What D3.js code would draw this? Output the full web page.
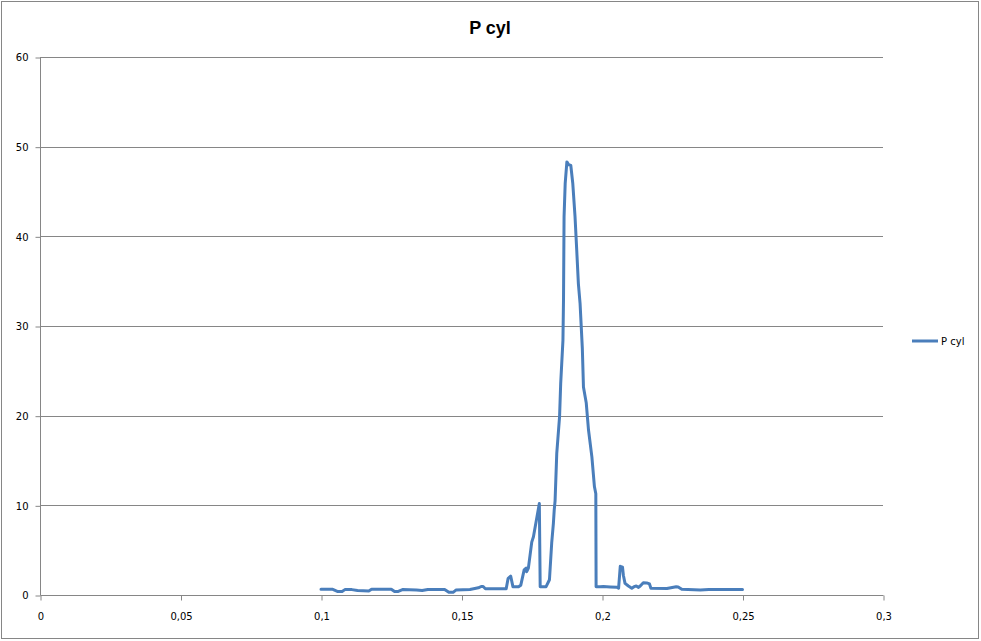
<!DOCTYPE html>
<html><head><meta charset="utf-8">
<script src="https://cdn.jsdelivr.net/npm/d3@7"></script>
<style>html,body{margin:0;padding:0;background:#fff;}svg{display:block;}</style>
</head><body>
<svg id="c" width="981" height="641"></svg>
<script>
const title = "P cyl";
const seriesName = "P cyl";
const xTicks = [0, 0.05, 0.1, 0.15, 0.2, 0.25, 0.3];
const yTicks = [0, 10, 20, 30, 40, 50, 60];
const xs = [0.1000,0.1040,0.1060,0.1075,0.1085,0.1110,0.1130,0.1170,0.1180,0.1250,0.1262,0.1275,0.1290,0.1340,0.1360,0.1380,0.1440,0.1455,0.1470,0.1480,0.1530,0.1560,0.1570,0.1577,0.1585,0.1630,0.1648,0.1659,0.1666,0.1675,0.1683,0.1703,0.1711,0.1723,0.1730,0.1732,0.1738,0.1750,0.1756,0.1777,0.1780,0.1801,0.1813,0.1821,0.1824,0.1827,0.1830,0.1833,0.1839,0.1849,0.1853,0.1861,0.1863,0.1865,0.1869,0.1875,0.1881,0.1889,0.1896,0.1904,0.1910,0.1916,0.1922,0.1930,0.1934,0.1944,0.1952,0.1964,0.1973,0.1978,0.1979,0.1993,0.2005,0.2029,0.2053,0.2059,0.2065,0.2073,0.2076,0.2082,0.2094,0.2106,0.2114,0.2122,0.2130,0.2136,0.2147,0.2159,0.2169,0.2174,0.2231,0.2264,0.2271,0.2284,0.2350,0.2380,0.2420,0.2500];
const ys = [0.65,0.65,0.38,0.38,0.6,0.6,0.5,0.45,0.65,0.65,0.38,0.4,0.6,0.55,0.5,0.62,0.62,0.3,0.3,0.55,0.62,0.8,0.95,0.95,0.7,0.7,0.7,0.7,1.86,2.1,0.93,0.93,1.1,2.8,3.0,2.6,3.0,5.9,6.5,10.2,0.93,0.93,1.7,5.8,6.9,8.0,9.5,10.5,15.8,19.9,23.6,28.4,32.9,42.2,45.9,48.3,48.0,47.9,45.9,42.2,38.5,34.7,32.5,27.5,23.2,21.4,18.4,15.4,12.1,11.3,0.93,0.93,0.95,0.9,0.86,0.75,3.2,3.1,2.2,1.3,1.0,0.75,0.93,1.0,0.85,1.0,1.37,1.35,1.23,0.75,0.72,0.93,0.9,0.64,0.55,0.6,0.62,0.62];

const data = xs.map((x,i)=>({x:x, y:ys[i]}));
const svg = d3.select("#c");
const L = 40, R = 883, T = 57, B = 595;
const x = d3.scaleLinear().domain([0,0.3]).range([L,R]);
const y = d3.scaleLinear().domain([0,60]).range([B,T]);
const fmt = d => String(d).replace(".", ",");
const grid = "#868686";

// outer border
svg.append("rect").attr("x",1.5).attr("y",1.5).attr("width",977).attr("height",637)
  .attr("fill","#fff").attr("stroke",grid).attr("stroke-width",1);

// gridlines
svg.append("g").selectAll("line").data(yTicks.filter(d=>d>0)).join("line")
  .attr("x1",L).attr("x2",R).attr("y1",d=>Math.round(y(d))+0.5).attr("y2",d=>Math.round(y(d))+0.5)
  .attr("stroke",grid).attr("stroke-width",1);

// y axis
const ya = svg.append("g").attr("transform",`translate(${L+0.5},0.5)`)
  .call(d3.axisLeft(y).tickValues(yTicks).tickFormat(d=>d).tickSize(5).tickPadding(7));
ya.select(".domain").attr("stroke",grid).attr("d",`M0,${T}V${B}`);
ya.selectAll(".tick line").attr("stroke",grid);
ya.selectAll("text").attr("font-family","DejaVu Sans").attr("font-size","10px").attr("fill","#000");

// x axis
const xa = svg.append("g").attr("transform",`translate(0.5,${B+0.5})`)
  .call(d3.axisBottom(x).tickValues(xTicks).tickFormat(fmt).tickSize(5).tickPadding(12));
xa.select(".domain").attr("stroke",grid).attr("d",`M${L},0H${R}`);
xa.selectAll(".tick line").attr("stroke",grid);
xa.selectAll("text").attr("font-family","DejaVu Sans").attr("font-size","10px").attr("fill","#000");

// series
svg.append("path").datum(data)
  .attr("d", d3.line().x(d=>x(d.x)).y(d=>y(d.y)))
  .attr("fill","none").attr("stroke","#4A7EBB").attr("stroke-width",3)
  .attr("stroke-linejoin","round").attr("stroke-linecap","round");

// title
svg.append("text").attr("x",490).attr("y",34).attr("text-anchor","middle")
  .attr("font-family","Liberation Sans").attr("font-weight","bold").attr("font-size","18px")
  .attr("fill","#000").text(title);

// legend
svg.append("line").attr("x1",912).attr("x2",938).attr("y1",341).attr("y2",341)
  .attr("stroke","#4A7EBB").attr("stroke-width",3);
svg.append("text").attr("x",941).attr("y",345).attr("font-family","DejaVu Sans")
  .attr("font-size","10px").attr("fill","#000").text(seriesName);
</script>
</body></html>
